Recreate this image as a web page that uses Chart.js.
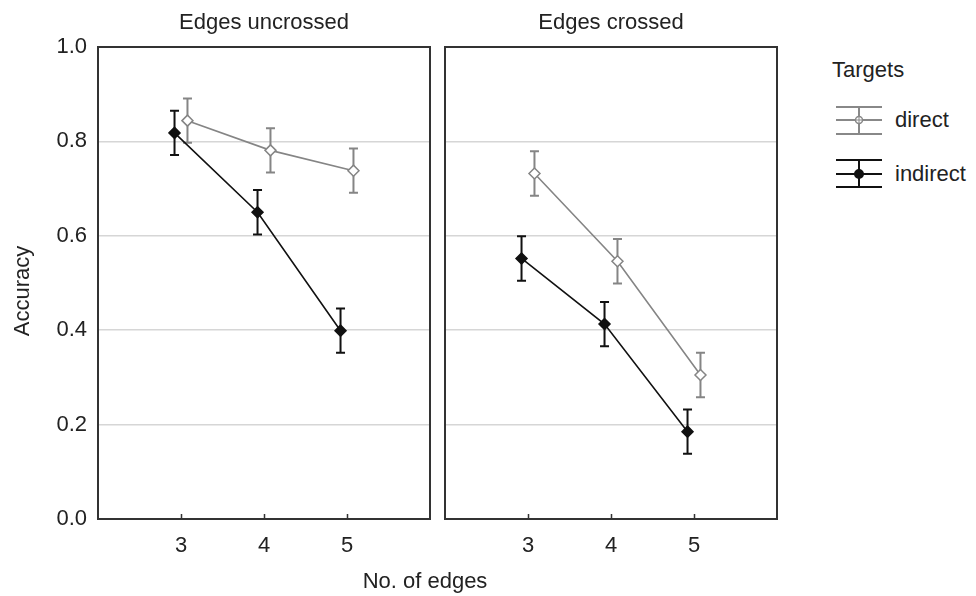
<!DOCTYPE html>
<html>
<head>
<meta charset="utf-8">
<script src="https://cdn.jsdelivr.net/npm/chart.js@4.4.1/dist/chart.umd.min.js"></script>
<style>
  body { margin:0; background:#fff; font-family:"Liberation Sans", Arial, sans-serif; color:#222; }
  #wrap { position:relative; width:976px; height:596px; overflow:hidden; }
  canvas { position:absolute; top:0; }
  .txt { position:absolute; font-size:22px; line-height:26px; white-space:nowrap; }
  .ctr { text-align:center; }
</style>
</head>
<body>
<div id="wrap">
  <canvas id="left" width="436" height="596" style="left:0"></canvas>
  <canvas id="right" width="340" height="596" style="left:440px"></canvas>

  <div class="txt ctr" style="left:164px; width:200px; top:9px;">Edges uncrossed</div>
  <div class="txt ctr" style="left:511px; width:200px; top:9px;">Edges crossed</div>
  <div class="txt ctr" style="left:325px; width:200px; top:568px;">No. of edges</div>
  <div class="txt ctr" style="left:-78px; width:200px; top:278px; transform:rotate(-90deg);">Accuracy</div>

  <div class="txt" style="left:832px; top:57px;">Targets</div>
  <svg style="position:absolute; left:834px; top:100px;" width="52" height="94">
    <g stroke="#888" stroke-width="2" fill="none">
      <line x1="2" y1="7" x2="48" y2="7"/><line x1="2" y1="20" x2="48" y2="20"/><line x1="2" y1="34" x2="48" y2="34"/>
      <line x1="25" y1="7" x2="25" y2="34"/>
      <circle cx="25" cy="20" r="3.5" fill="#fff" stroke-width="1.5"/>
      <line x1="21.5" y1="20" x2="28.5" y2="20" stroke-width="1"/><line x1="25" y1="16.5" x2="25" y2="23.5" stroke-width="1"/>
    </g>
    <g stroke="#111" stroke-width="2" fill="none">
      <line x1="2" y1="60" x2="48" y2="60"/><line x1="2" y1="74" x2="48" y2="74"/><line x1="2" y1="87" x2="48" y2="87"/>
      <line x1="25" y1="60" x2="25" y2="87"/>
      <circle cx="25" cy="74" r="4" fill="#111"/>
    </g>
  </svg>
  <div class="txt" style="left:895px; top:107px;">direct</div>
  <div class="txt" style="left:895px; top:161px;">indirect</div>
</div>

<script>
// Data
const edges = [3, 4, 5];
const yTicks = [0, 0.2, 0.4, 0.6, 0.8, 1.0];

const uncrossedDirect = [0.844, 0.781, 0.738];
const uncrossedIndirect = [0.818, 0.650, 0.399];
const crossedDirect = [0.732, 0.546, 0.305];
const crossedIndirect = [0.552, 0.413, 0.185];

// error bar half widths
const uncrossedDirectErr = [0.047, 0.047, 0.047];
const uncrossedIndirectErr = [0.047, 0.047, 0.047];
const crossedDirectErr = [0.047, 0.047, 0.047];
const crossedIndirectErr = [0.047, 0.047, 0.047];

// Styles
const GRAY = '#858585';
const BLACK = '#111';
const FRAME = '#333';
const GRID = '#d6d6d6';
const DODGE = 0.078;
const FONT = { family: '"Liberation Sans", Arial, sans-serif', size: 22 };

function series(vals, errs, dodge, color, filled){
  return {
    data: edges.map((e, i) => ({ x: e + dodge, y: vals[i] })),
    errors: errs,
    borderColor: color,
    borderWidth: 1.6,
    pointStyle: 'rectRot',
    pointRadius: 5.5,
    pointBorderWidth: 1.5,
    pointBorderColor: color,
    pointBackgroundColor: filled ? color : '#fff',
    tension: 0
  };
}

// error bars drawn under the points, frame + inner x ticks on top
const panelPlugin = {
  id: 'panel',
  beforeDatasetsDraw(chart){
    const ctx = chart.ctx, y = chart.scales.y;
    chart.data.datasets.forEach((ds, di) => {
      const meta = chart.getDatasetMeta(di);
      ctx.save();
      ctx.strokeStyle = ds.borderColor;
      ctx.lineWidth = 2;
      meta.data.forEach((pt, i) => {
        const v = ds.data[i].y, e = ds.errors[i];
        const top = y.getPixelForValue(v + e), bot = y.getPixelForValue(v - e);
        ctx.beginPath();
        ctx.moveTo(pt.x, top); ctx.lineTo(pt.x, bot);
        ctx.moveTo(pt.x - 4.5, top); ctx.lineTo(pt.x + 4.5, top);
        ctx.moveTo(pt.x - 4.5, bot); ctx.lineTo(pt.x + 4.5, bot);
        ctx.stroke();
      });
      ctx.restore();
    });
  },
  afterDraw(chart){
    const ctx = chart.ctx, a = chart.chartArea, x = chart.scales.x;
    ctx.save();
    ctx.strokeStyle = FRAME;
    ctx.lineWidth = 2;
    ctx.strokeRect(a.left, a.top, a.right - a.left, a.bottom - a.top);
    ctx.beginPath();
    edges.forEach(e => {
      const px = Math.round(x.getPixelForValue(e)) + 0.5;
      ctx.moveTo(px, a.bottom); ctx.lineTo(px, a.bottom - 5);
    });
    ctx.lineWidth = 1.5;
    ctx.stroke();
    ctx.restore();
  }
};

function makePanel(id, direct, directErr, indirect, indirectErr, showY, yWidth, padRight){
  return new Chart(document.getElementById(id), {
    type: 'line',
    data: {
      datasets: [
        series(indirect, indirectErr, -DODGE, BLACK, true),
        series(direct, directErr, DODGE, GRAY, false)
      ]
    },
    options: {
      responsive: false,
      animation: false,
      devicePixelRatio: 1,
      layout: { autoPadding: false, padding: { top: 47, right: padRight, bottom: 0, left: 0 } },
      plugins: { legend: { display: false }, tooltip: { enabled: false } },
      scales: {
        x: {
          type: 'linear', min: 2, max: 6,
          afterBuildTicks: s => { s.ticks = edges.map(v => ({ value: v })); },
          afterFit: s => { s.height = 77; s.paddingLeft = 0; s.paddingRight = 0; },
          grid: { drawOnChartArea: false, drawTicks: false },
          border: { display: false },
          ticks: { font: FONT, color: '#222', padding: 14 }
        },
        y: {
          min: 0, max: 1,
          afterBuildTicks: s => { s.ticks = yTicks.map(v => ({ value: v })); },
          afterFit: s => { s.width = yWidth; s.paddingTop = 0; s.paddingBottom = 0; },
          grid: { color: GRID, lineWidth: 1.5, drawTicks: false },
          border: { display: false },
          ticks: { display: showY, font: FONT, color: '#222', padding: 11, callback: v => v.toFixed(1) }
        }
      }
    },
    plugins: [panelPlugin]
  });
}

makePanel('left', uncrossedDirect, uncrossedDirectErr, uncrossedIndirect, uncrossedIndirectErr, true, 98, 6);
makePanel('right', crossedDirect, crossedDirectErr, crossedIndirect, crossedIndirectErr, false, 5, 3);
</script>
</body>
</html>
